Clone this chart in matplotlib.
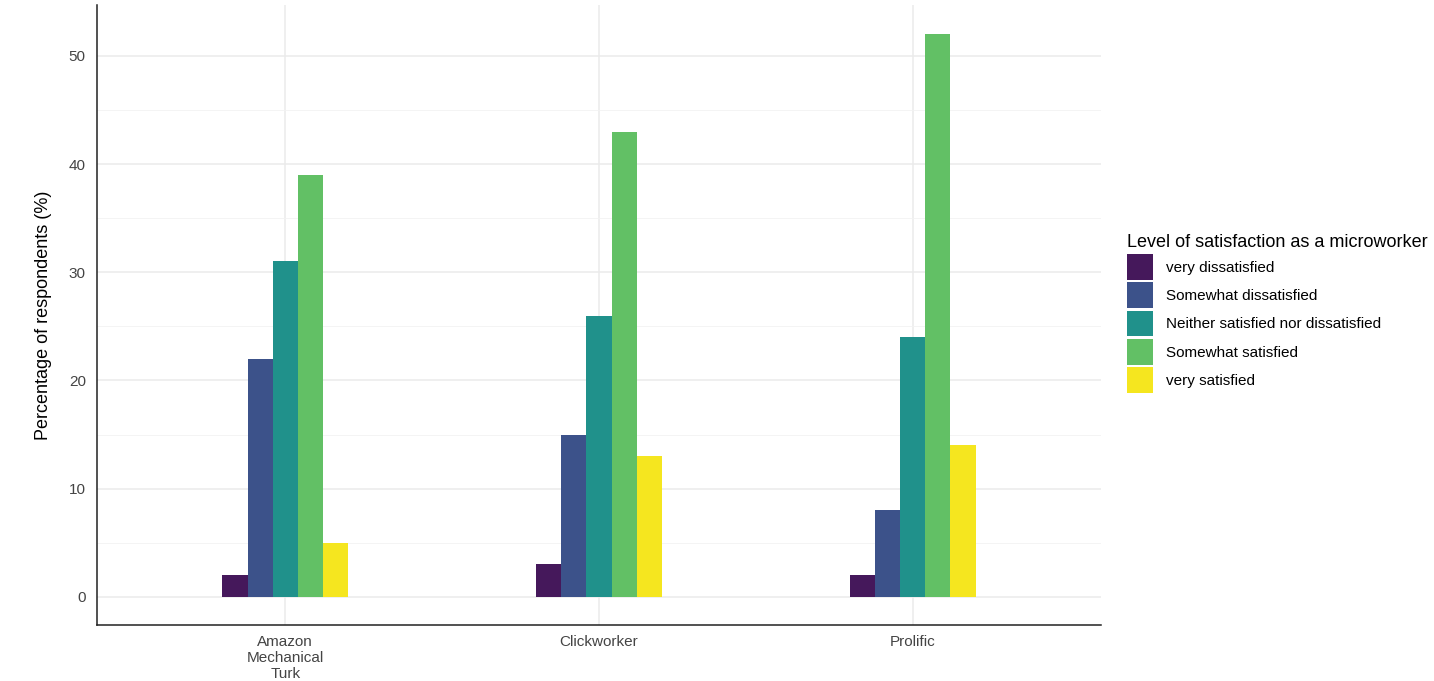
import numpy as np
import matplotlib
matplotlib.use("Agg")
import matplotlib.pyplot as plt
from matplotlib.patches import Patch
from matplotlib.ticker import MultipleLocator

plt.rcParams["font.family"] = ["Liberation Sans", "DejaVu Sans"]

# data
platforms = ["Amazon\nMechanical\nTurk", "Clickworker", "Prolific"]
levels = ["very dissatisfied", "Somewhat dissatisfied", "Neither satisfied nor dissatisfied",
          "Somewhat satisfied", "very satisfied"]
very_dissatisfied = [2, 3, 2]
somewhat_dissatisfied = [22, 15, 8]
neither = [31, 26, 24]
somewhat_satisfied = [39, 43, 52]
very_satisfied = [5, 13, 14]
colors = ["#45185B", "#3C528A", "#20918B", "#62C065", "#F5E61F"]

series = [very_dissatisfied, somewhat_dissatisfied, neither, somewhat_satisfied, very_satisfied]

fig = plt.figure(figsize=(14.34, 6.81), dpi=100)
ax = fig.add_axes([0.0676, 0.0822, 0.7002, 0.9105])

x = np.arange(len(platforms))
width = 0.08
for i, (vals, col) in enumerate(zip(series, colors)):
    ax.bar(x + (i - 2) * width, vals, width=width, color=col, linewidth=0, zorder=3)

ax.set_xlim(-0.6, 2.6)
ax.set_ylim(-2.6, 54.7)
ax.set_xticks(x)
ax.set_xticklabels(platforms, fontsize=11, color="#444444", linespacing=1.2)
ax.yaxis.set_major_locator(MultipleLocator(10))
ax.yaxis.set_minor_locator(MultipleLocator(5))
ax.tick_params(axis="y", labelsize=11, labelcolor="#444444", length=0, pad=8)
ax.tick_params(axis="x", length=0, pad=7)
ax.tick_params(which="minor", length=0)
ax.grid(which="major", color="#ebebeb", linewidth=1.1, zorder=0)
ax.grid(which="minor", axis="y", color="#f2f2f2", linewidth=0.6, zorder=0)

for s in ["top", "right"]:
    ax.spines[s].set_visible(False)
for s in ["left", "bottom"]:
    ax.spines[s].set_color("#222222")
    ax.spines[s].set_linewidth(1.1)

ax.set_ylabel("Percentage of respondents (%)", fontsize=13, labelpad=12)

handles = [Patch(facecolor=c, edgecolor="none") for c in colors]
leg = fig.legend(handles, levels, loc="upper left", bbox_to_anchor=(0.782, 0.665),
                 title="Level of satisfaction as a microworker", title_fontsize=13,
                 fontsize=11, frameon=False, handlelength=1.7, handleheight=2.2,
                 labelspacing=0.18, handletextpad=0.8, borderaxespad=0)
leg._legend_box.align = "left"

fig.savefig("out.png", dpi=100)
